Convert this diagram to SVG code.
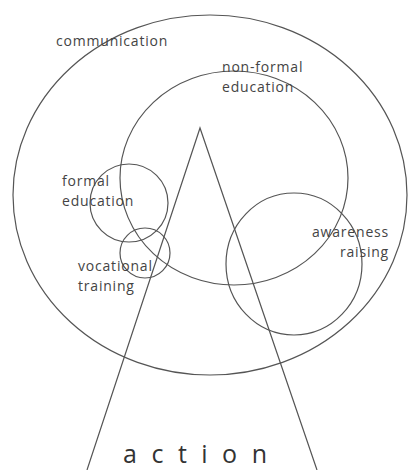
<svg xmlns="http://www.w3.org/2000/svg" width="410" height="470" viewBox="0 0 410 470">
<style>
.s{fill:none;stroke:#555;stroke-width:1.2}
.t{font-family:"Open Sans","Liberation Sans",sans-serif;font-size:14px;letter-spacing:0.8px;fill:#444}
.a{font-family:"Open Sans","Liberation Sans",sans-serif;font-size:25px;fill:#333}
</style>
<rect width="410" height="470" fill="#fff"/>
<g id="communication">
<ellipse class="s" cx="210" cy="195" rx="197" ry="180"/>
<text class="t" x="56" y="46">communication</text>
</g>
<g id="non-formal-education">
<ellipse class="s" cx="234" cy="178" rx="114" ry="107"/>
<text class="t" x="222" y="72">non-formal</text>
<text class="t" x="222" y="92">education</text>
</g>
<g id="formal-education">
<circle class="s" cx="129" cy="203" r="39"/>
<text class="t" x="62" y="186">formal</text>
<text class="t" x="62" y="206">education</text>
</g>
<g id="vocational-training">
<circle class="s" cx="145" cy="253" r="25"/>
<text class="t" x="78" y="271">vocational</text>
<text class="t" x="78" y="291">training</text>
</g>
<g id="awareness-raising">
<ellipse class="s" cx="294" cy="264" rx="68" ry="71"/>
<text class="t" x="389" y="237" text-anchor="end">awareness</text>
<text class="t" x="389" y="257" text-anchor="end">raising</text>
</g>
<g id="action">
<polyline class="s" points="87,470 200,128 317,470"/>
<text class="a" x="123" y="463" textLength="144" lengthAdjust="spacing">action</text>
</g>
<g id="connectors"></g>
</svg>
